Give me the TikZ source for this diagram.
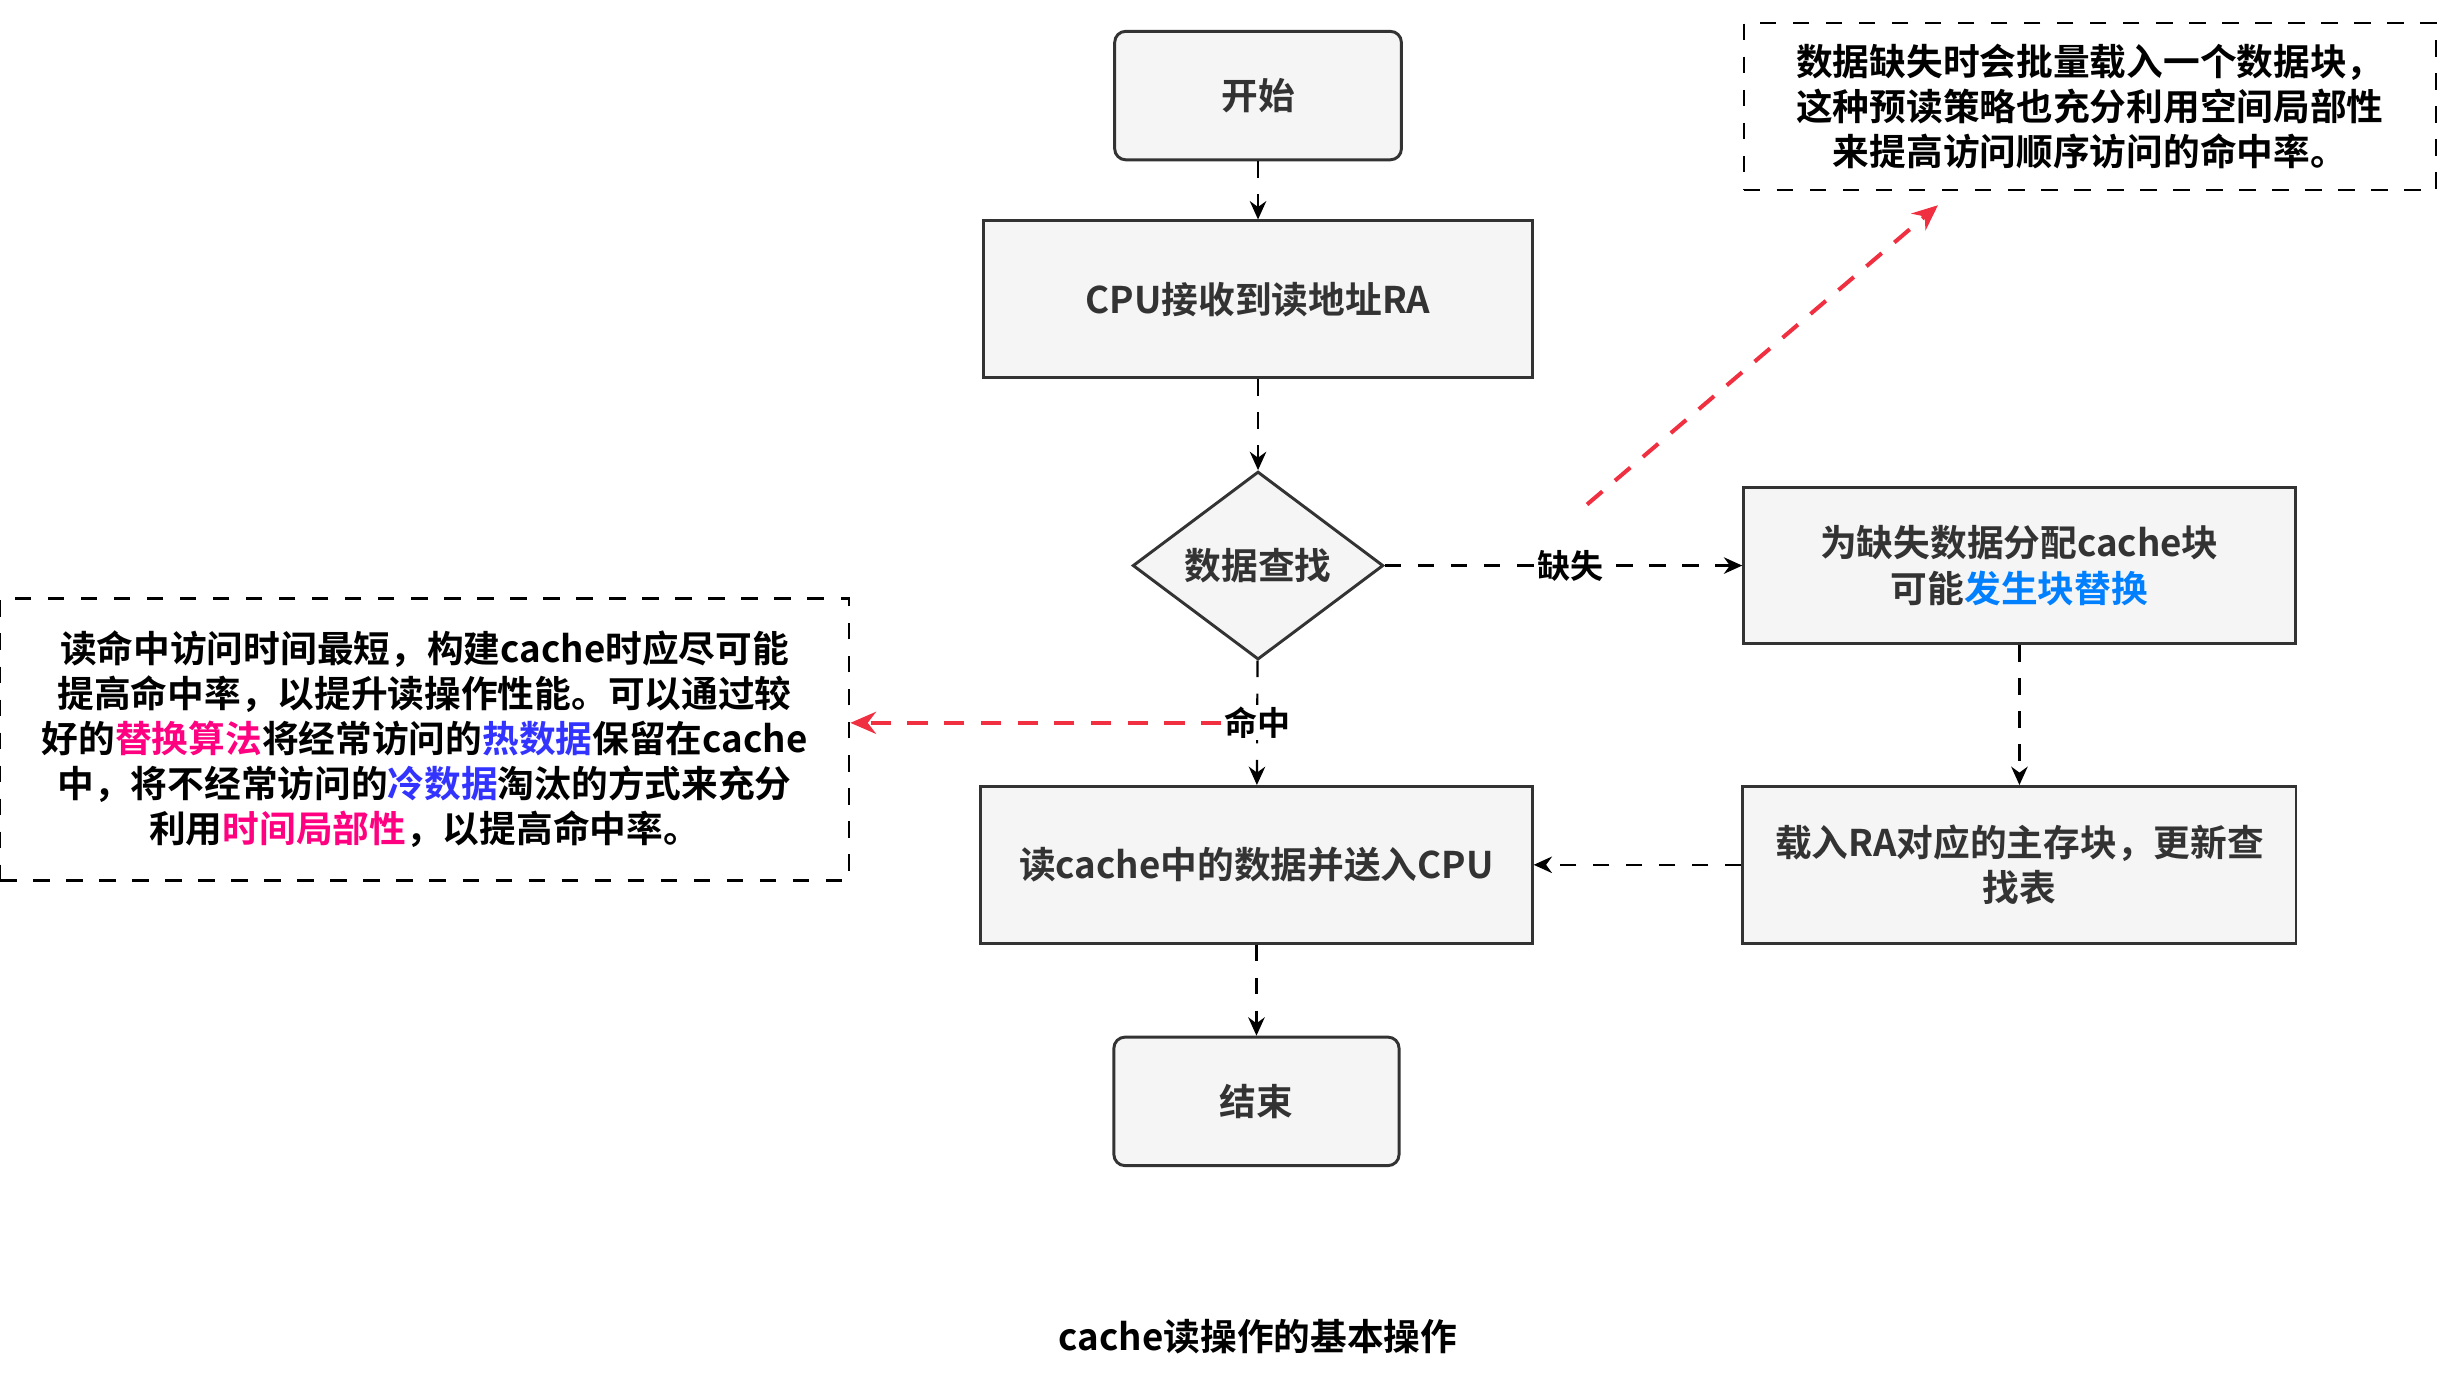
\documentclass[tikz,border=0pt]{standalone}
\usepackage{fontspec}
\setmainfont{Noto Sans CJK SC}[BoldFont={Noto Sans CJK SC Bold}]
\usetikzlibrary{shapes.geometric,arrows.meta}
\definecolor{edge}{HTML}{333333}
\definecolor{hot}{HTML}{FF0080}
\definecolor{cold}{HTML}{3333FF}
\definecolor{rep}{HTML}{007FFF}
\definecolor{redarr}{HTML}{F03040}
\begin{document}
\begin{tikzpicture}[x=0.03cm,y=-0.03cm,
  box/.style={draw=edge,line width=1.6pt,fill=gray!8,inner sep=0pt,align=center,font=\fontsize{20}{25}\selectfont\bfseries,text=black!80},
  rbox/.style={box,rounded corners=6pt},
  note/.style={draw=black,line width=1.3pt,dash pattern=on 9pt off 9pt,inner sep=0pt,align=center,font=\fontsize{20}{24.5}\selectfont\bfseries},
  flow/.style={draw=black,line width=1.2pt,dash pattern=on 9pt off 9pt,-{Stealth[length=10pt,width=9pt]}},
  red/.style={draw=redarr,line width=2.2pt,dash pattern=on 11pt off 9pt,-{Stealth[length=14pt,width=12pt]}},
  lbl/.style={fill=white,inner sep=1pt,font=\fontsize{18}{20}\selectfont\bfseries}]
\useasboundingbox (0,0) rectangle (1560,892);
\node[rbox,minimum width=5.49cm,minimum height=2.46cm] (start) at (803,61) {开始};
\node[box,minimum width=10.5cm,minimum height=3cm] (cpu) at (803,191) {CPU接收到读地址RA};
\node[box,diamond,aspect=1.33,minimum width=4.8cm,minimum height=3.6cm] (find) at (803,361) {数据查找};
\node[box,minimum width=10.56cm,minimum height=3cm] (alloc) at (1289,361) {为缺失数据分配cache块\\可能\textcolor{rep}{发生块替换}};
\node[box,minimum width=10.59cm,minimum height=3cm] (load) at (1289,552) {载入RA对应的主存块，更新查\\找表};
\node[box,minimum width=10.56cm,minimum height=3cm] (read) at (802,552) {读cache中的数据并送入CPU};
\node[rbox,minimum width=5.46cm,minimum height=2.46cm] (end) at (802,703) {结束};
\node[note,minimum width=13.26cm,minimum height=3.2cm] (n1) at (1334,68) {数据缺失时会批量载入一个数据块，\\这种预读策略也充分利用空间局部性\\来提高访问顺序访问的命中率。};
\node[note,minimum width=16.26cm,minimum height=5.4cm] (n2) at (271,472) {读命中访问时间最短，构建cache时应尽可能\\提高命中率，以提升读操作性能。可以通过较\\好的\textcolor{hot}{替换算法}将经常访问的\textcolor{cold}{热数据}保留在cache\\中，将不经常访问的\textcolor{cold}{冷数据}淘汰的方式来充分\\利用\textcolor{hot}{时间局部性}，以提高命中率。};
\node[font=\fontsize{20}{22}\selectfont\bfseries] (cap) at (803,853) {cache读操作的基本操作};
\draw[flow] (start) -- (cpu);
\draw[flow] (cpu) -- (find);
\draw[flow] (find) -- node[lbl,pos=0.5] (hit) {命中} (read);
\draw[flow] (find) -- node[lbl,pos=0.52] (miss) {缺失} (alloc);
\draw[flow] (alloc) -- (load);
\draw[flow] (load) -- (read);
\draw[flow] (read) -- (end);
\coordinate (ra1) at (1013,322);
\coordinate (ra2) at (1237,131);
\draw[red] (ra1) -- (ra2);
\draw[red] (hit.west) -- (hit.west -| n2.east);
\end{tikzpicture}
\end{document}
